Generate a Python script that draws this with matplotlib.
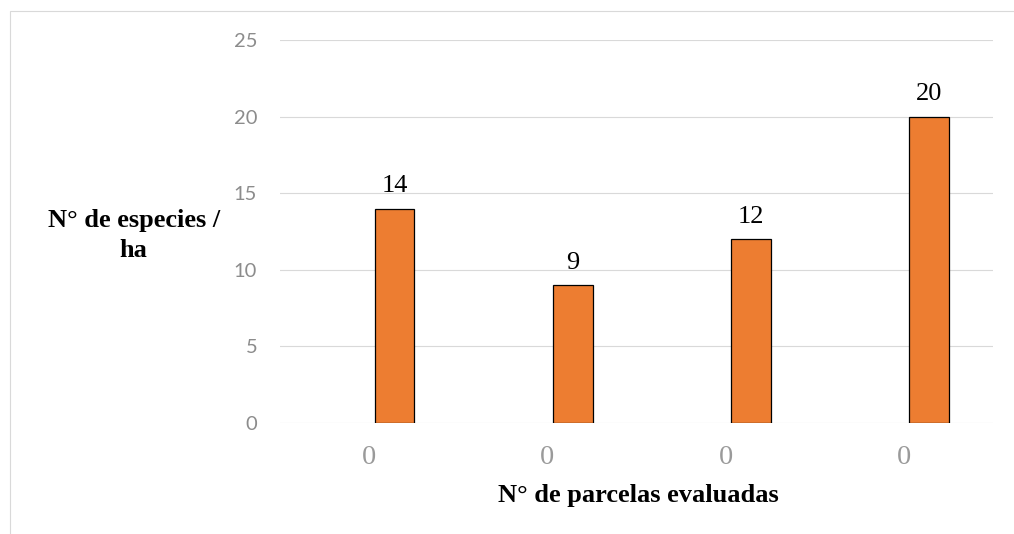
import matplotlib
matplotlib.use("Agg")
import matplotlib.pyplot as plt
from matplotlib.patches import Rectangle
import numpy as np

# Chart data
categories = ["0", "0", "0", "0"]
species_per_ha = [14, 9, 12, 20]
y_ticks = [0, 5, 10, 15, 20, 25]

W, H = 1014, 534
fig = plt.figure(figsize=(W / 100, H / 100), dpi=100)
fig.patch.set_facecolor("white")

# Plot area in pixel terms
left_px, right_px, top_px, bottom_px = 280, 993, 40, 423
ax = fig.add_axes([left_px / W, 1 - bottom_px / H,
                   (right_px - left_px) / W, (bottom_px - top_px) / H])

# Outer chart frame (only the top and left edges are visible)
fig.patches.append(Rectangle((10 / W, -0.5), 2.0, 1.5 - 11 / H,
                             transform=fig.transFigure, fill=False,
                             edgecolor="#d9d9d9", linewidth=0.8, zorder=0))

x = np.arange(len(categories))
bar_shift = 0.142   # bars sit in the second slot of each category band
bar_width = 0.223
bars = ax.bar(x + bar_shift, species_per_ha, width=bar_width,
              color="#ED7D31", edgecolor="black", linewidth=0.9, zorder=3)

for xi, v in zip(x + bar_shift, species_per_ha):
    ax.annotate(str(v), xy=(xi, v), xytext=(0, 11.9), textcoords="offset points",
                ha="center", va="baseline", fontsize=19,
                family="Liberation Serif", color="black")

ax.set_xlim(-0.5, len(categories) - 0.5)
ax.set_ylim(0, 25)
ax.set_yticks(y_ticks)
ax.set_yticklabels([str(t) for t in y_ticks], family="Lato", fontsize=14.5,
                   color="#8c8c8c")
ax.set_xticks(x)
ax.set_xticklabels(categories, family="Liberation Serif", fontsize=20.5,
                   color="#9a9a9a")
ax.tick_params(axis="y", length=0, pad=16.4)
ax.tick_params(axis="x", length=0, pad=15.5)

ax.grid(axis="y", color="#d9d9d9", linewidth=0.8, zorder=0)
ax.set_axisbelow(True)
for s in ax.spines.values():
    s.set_visible(False)

ax.set_ylabel("N° de especies /\nha", rotation=0, family="Liberation Serif",
              fontweight="bold", fontsize=19, ha="center", va="center",
              linespacing=1.36)
ax.yaxis.set_label_coords((133.7 - left_px) / (right_px - left_px),
                          (bottom_px - 235.5) / (bottom_px - top_px))

ax.set_xlabel("N° de parcelas evaluadas", family="Liberation Serif",
              fontweight="bold", fontsize=19, va="baseline")
ax.xaxis.set_label_coords((638 - left_px) / (right_px - left_px),
                          -(502 - bottom_px) / (bottom_px - top_px))

fig.savefig("out.png", dpi=100, facecolor="white")
